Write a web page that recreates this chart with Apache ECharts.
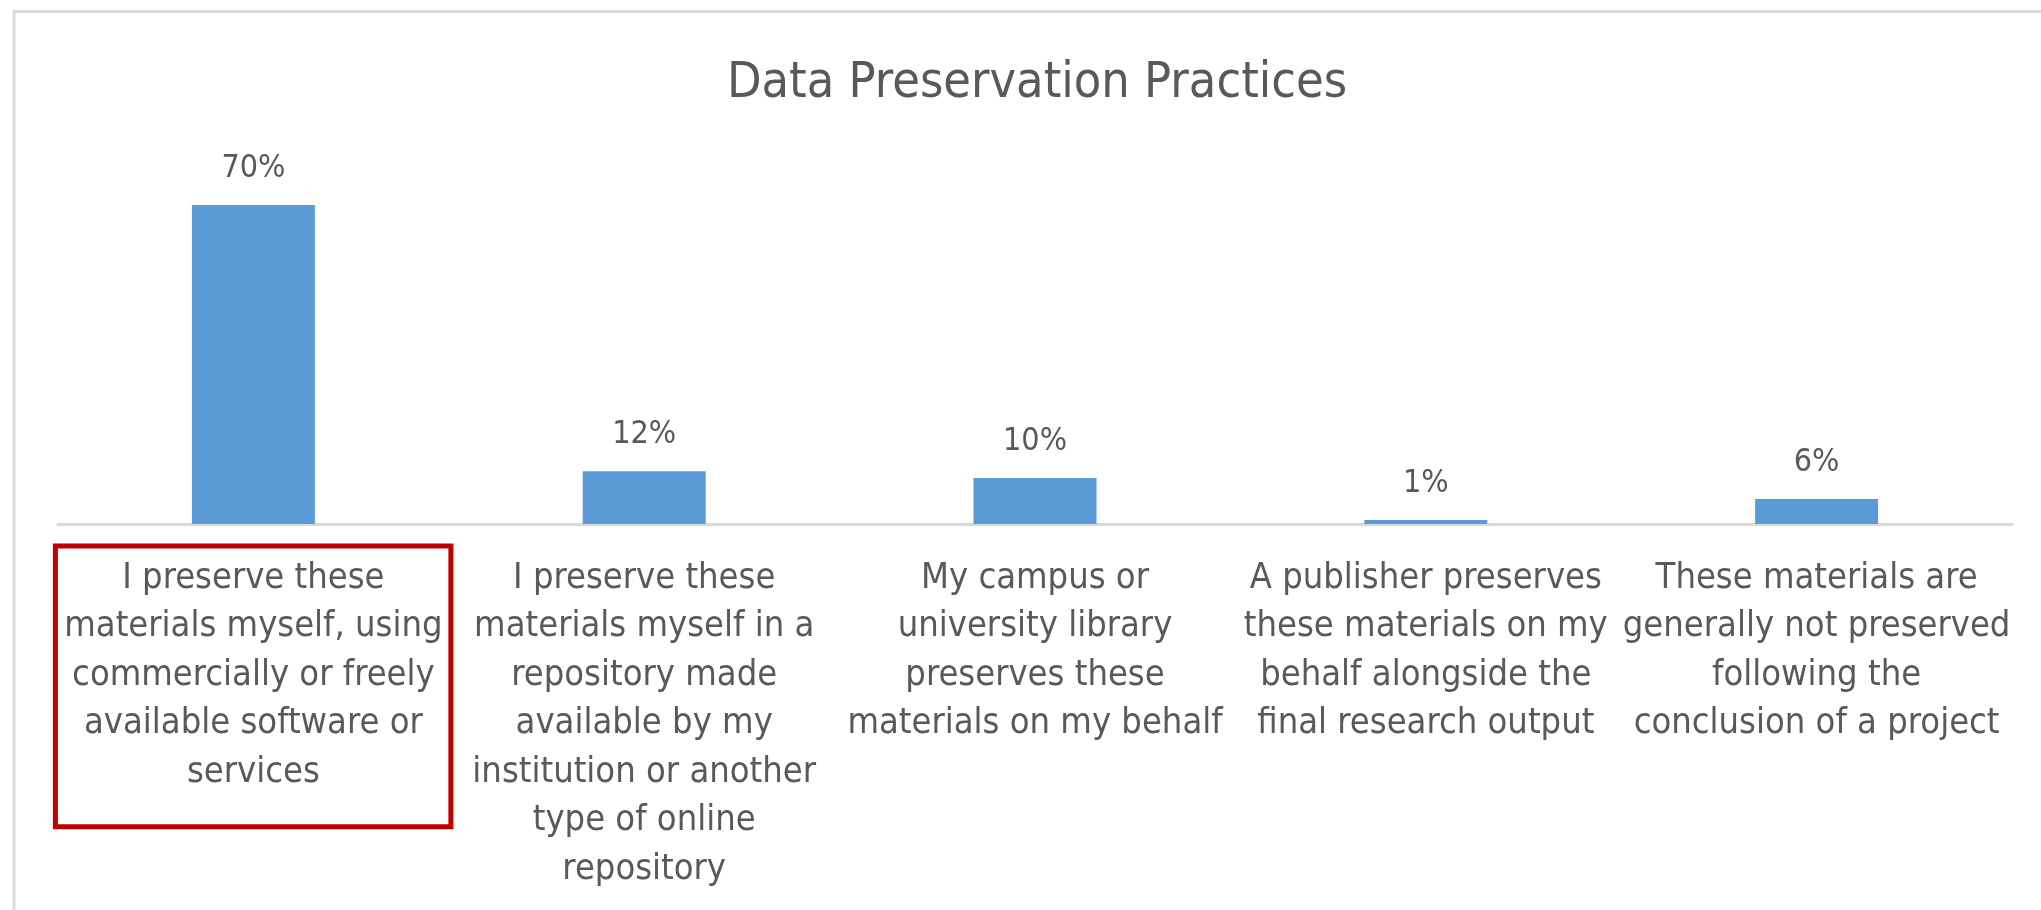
<!DOCTYPE html>
<html><head><meta charset="utf-8">
<script src="https://cdn.jsdelivr.net/npm/echarts@6/dist/echarts.min.js"></script>
<style>html,body{margin:0;padding:0;background:#fff}#c{width:2041px;height:910px}</style>
</head><body><div id="c"></div>
<script>
const chartTitle = 'Data Preservation Practices';
const categories = [
  'I preserve these\nmaterials myself, using\ncommercially or freely\navailable software or\nservices',
  'I preserve these\nmaterials myself in a\nrepository made\navailable by my\ninstitution or another\ntype of online\nrepository',
  'My campus or\nuniversity library\npreserves these\nmaterials on my behalf',
  'A publisher preserves\nthese materials on my\nbehalf alongside the\nfinal research output',
  'These materials are\ngenerally not preserved\nfollowing the\nconclusion of a project'
];
const values = [70, 11.6, 10.1, 0.9, 5.5];
const highlightedCategory = 0;

const FONT = "'DejaVu Sans Condensed', 'Open Sans', sans-serif";
const TXT = '#595959';
const chart = echarts.init(document.getElementById('c'), null, {renderer: 'canvas'});
chart.setOption({
  animation: false,
  backgroundColor: '#ffffff',
  title: {
    text: chartTitle,
    left: 1032, top: 54, textAlign: 'center',
    textStyle: {fontFamily: FONT, fontSize: 50, fontWeight: 'normal', color: TXT}
  },
  grid: {left: 58, right: 29, top: 159.4, bottom: 386, containLabel: false},
  xAxis: {
    type: 'category', data: categories,
    axisTick: {show: false},
    axisLine: {lineStyle: {color: '#d9d9d9', width: 3}},
    axisLabel: {interval: 0, fontFamily: FONT, fontSize: 36, lineHeight: 48.5, color: TXT, margin: 30}
  },
  yAxis: {type: 'value', min: 0, max: 80, show: false, splitLine: {show: false}},
  series: [{
    type: 'bar', data: values, barWidth: 123,
    itemStyle: {color: '#5B9BD5'},
    label: {show: true, position: 'top', distance: 20, fontFamily: FONT, fontSize: 32, color: TXT,
      formatter: p => Math.round(p.value) + '%'}
  }]
});
const cx = chart.convertToPixel({xAxisIndex: 0}, highlightedCategory);
chart.setOption({
  graphic: [
    {type: 'rect', silent: true, shape: {x: 14, y: 11.5, width: 2100, height: 1000},
     style: {fill: 'none', stroke: '#d9d9d9', lineWidth: 3}},
    {type: 'rect', silent: true, shape: {x: cx - 198, y: 546, width: 395.5, height: 280.7},
     style: {fill: 'none', stroke: '#C00000', lineWidth: 5}}
  ]
});
</script></body></html>
